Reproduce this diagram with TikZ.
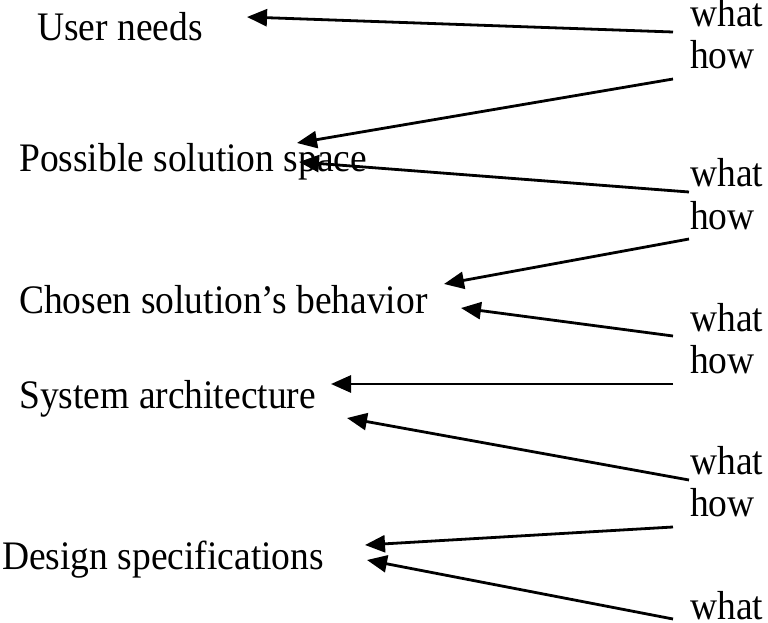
\documentclass[tikz,border=0pt]{standalone}
\usepackage{fontspec}
\setmainfont{Liberation Serif}
\usetikzlibrary{arrows.meta}
\newcommand{\tallt}[1]{\scalebox{1}[1.08]{#1}}
\begin{document}
\begin{tikzpicture}[x=1pt,y=-1pt,
  lbl/.style={anchor=base west,inner sep=0pt,font=\fontsize{37.5}{44}\selectfont},
  arr/.style={line width=2.8pt,-{Triangle[length=20pt,width=17pt]}}]
\useasboundingbox (0,0) rectangle (768,623);
% left labels
\node[lbl] (un) at (37,41) {\tallt{User needs}};
\node[lbl] (ps) at (19,171) {\tallt{Possible solution space}};
\node[lbl] (cs) at (19,313) {\tallt{Chosen solution’s behavior}};
\node[lbl] (sa) at (19,408) {\tallt{System architecture}};
\node[lbl] (ds) at (2,569) {\tallt{Design specifications}};
% right labels
\node[lbl] (w1) at (690,27) {\tallt{what}};
\node[lbl] (h1) at (690,69) {\tallt{how}};
\node[lbl] (w2) at (690,186) {\tallt{what}};
\node[lbl] (h2) at (690,229) {\tallt{how}};
\node[lbl] (w3) at (690,331) {\tallt{what}};
\node[lbl] (h3) at (690,373) {\tallt{how}};
\node[lbl] (w4) at (690,474) {\tallt{what}};
\node[lbl] (h4) at (690,516) {\tallt{how}};
\node[lbl] (w5) at (690,619) {\tallt{what}};
% arrow ends
\coordinate (tw1) at (673,32);  \coordinate (pw1) at (247,17);
\coordinate (th1) at (673,79);  \coordinate (ph1) at (297,143);
\coordinate (tw2) at (689,192); \coordinate (pw2) at (299,162);
\coordinate (th2) at (689,239); \coordinate (ph2) at (444,284);
\coordinate (tw3) at (673,336); \coordinate (pw3) at (461,308);
\coordinate (th3) at (673,384); \coordinate (ph3) at (331,384);
\coordinate (tw4) at (689,480); \coordinate (pw4) at (347,418);
\coordinate (th4) at (673,527); \coordinate (ph4) at (365,545);
\coordinate (tw5) at (673,619); \coordinate (pw5) at (367,560);
\draw[arr] (tw1) -- (pw1);
\draw[arr] (th1) -- (ph1);
\draw[arr] (tw2) -- (pw2);
\draw[arr] (th2) -- (ph2);
\draw[arr] (tw3) -- (pw3);
\draw[arr] (th3) -- (ph3);
\draw[arr] (tw4) -- (pw4);
\draw[arr] (th4) -- (ph4);
\draw[arr] (tw5) -- (pw5);
\end{tikzpicture}
\end{document}
